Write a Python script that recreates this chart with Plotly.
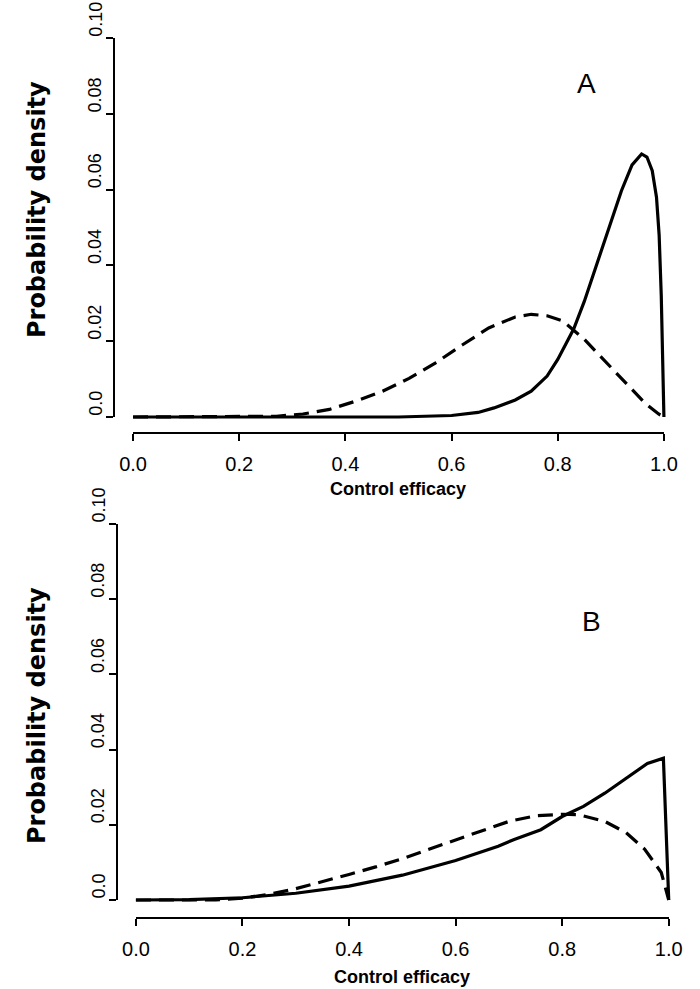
import plotly.graph_objects as go

# ---------------- data ----------------
# Panel A
a_solid_x = [0, 0.3, 0.5, 0.6, 0.65, 0.68, 0.72, 0.75, 0.78, 0.8, 0.83, 0.85, 0.88, 0.9,
             0.92, 0.94, 0.958, 0.968, 0.978, 0.986, 0.991, 0.995, 0.998, 1.0]
a_solid_y = [0, 0, 0, 0.0004, 0.0012, 0.0024, 0.0045, 0.0068, 0.0108, 0.0152, 0.0232,
             0.0305, 0.043, 0.0515, 0.0597, 0.0665, 0.0694, 0.0686, 0.065, 0.058, 0.048,
             0.032, 0.013, 0.0]
a_dash_x = [0, 0.22, 0.27, 0.32, 0.37, 0.42, 0.47, 0.52, 0.57, 0.62, 0.67, 0.72, 0.75,
            0.78, 0.81, 0.85, 0.89, 0.93, 0.965, 0.99, 1.0]
a_dash_y = [0, 0, 0.0002, 0.0008, 0.0020, 0.0042, 0.0068, 0.0102, 0.0143, 0.0190, 0.0235,
            0.0264, 0.0271, 0.0267, 0.0253, 0.0205, 0.0145, 0.0087, 0.0036, 0.0008, 0.0]

# Panel B
b_solid_x = [0, 0.1, 0.2, 0.3, 0.4, 0.5, 0.6, 0.68, 0.71, 0.76, 0.8, 0.84, 0.88, 0.92,
             0.96, 0.99, 1.0]
b_solid_y = [0, 0.0001, 0.0006, 0.0018, 0.0037, 0.0066, 0.0105, 0.0143, 0.0161, 0.0187,
             0.0222, 0.0249, 0.0284, 0.0324, 0.0363, 0.0377, 0.0]
b_dash_x = [0, 0.15, 0.2, 0.25, 0.3, 0.35, 0.4, 0.45, 0.5, 0.55, 0.6, 0.65, 0.7, 0.75,
            0.8, 0.83, 0.88, 0.92, 0.955, 0.986, 1.0]
b_dash_y = [0, 0, 0.0005, 0.0015, 0.003, 0.0048, 0.0068, 0.0088, 0.0110, 0.0135, 0.0160,
            0.0186, 0.0209, 0.0224, 0.0228, 0.0227, 0.0209, 0.0179, 0.0135, 0.0073, 0.0]

x_ticks = [0, 0.2, 0.4, 0.6, 0.8, 1.0]
x_tick_text = ["0.0", "0.2", "0.4", "0.6", "0.8", "1.0"]
y_ticks = [0, 0.02, 0.04, 0.06, 0.08, 0.10]
y_tick_text = ["0.0", "0.02", "0.04", "0.06", "0.08", "0.10"]
x_title = "Control efficacy"
y_title = "Probability density"
panel_labels = ["A", "B"]
panel_label_pos = [(0.855, 0.088), (0.855, 0.074)]

# ---------------- layout helpers ----------------
W, H = 700, 989
FONT = "Liberation Sans, Arial, Helvetica, sans-serif"
TITLE_FONT = "DejaVu Sans, Liberation Sans, Arial, sans-serif"


def fx(p):
    return p / W


def fy(p):
    return 1 - p / H


# pixel geometry of each panel
panels = [
    dict(x0=124, x1=677, y0=417, y1=38, xline=433, yline=104, xtitle=489, ytitle=210),
    dict(x0=127, x1=682, y0=900, y1=524, xline=918, yline=107, xtitle=977, ytitle=716),
]
XPAD, YPAD = 0.02, 0.005
TICKLEN = 7

fig = go.Figure()
layout = dict(
    width=W, height=H, margin=dict(l=0, r=0, t=0, b=0),
    paper_bgcolor="white", plot_bgcolor="rgba(0,0,0,0)",
    showlegend=False, font=dict(family=FONT, color="black"),
    annotations=[],
)

data = [(a_solid_x, a_solid_y, a_dash_x, a_dash_y), (b_solid_x, b_solid_y, b_dash_x, b_dash_y)]

for i, (pnl, (sx, sy, dx, dy)) in enumerate(zip(panels, data)):
    n_data = 2 * i + 1
    n_disp = 2 * i + 2
    xd = "x" if n_data == 1 else f"x{n_data}"
    yd = "y" if n_data == 1 else f"y{n_data}"
    xs, ys = f"x{n_disp}", f"y{n_disp}"
    kd_x = "xaxis" if n_data == 1 else f"xaxis{n_data}"
    kd_y = "yaxis" if n_data == 1 else f"yaxis{n_data}"

    sx_px = pnl["x1"] - pnl["x0"]
    sy_px = (pnl["y0"] - pnl["y1"]) / 0.1

    # data axes (invisible, slightly padded so the thick lines are not clipped)
    layout[kd_x] = dict(
        domain=[fx(pnl["x0"] - XPAD * sx_px), fx(pnl["x1"] + XPAD * sx_px)],
        range=[-XPAD, 1 + XPAD], visible=False, anchor=yd,
    )
    layout[kd_y] = dict(
        domain=[fy(pnl["y0"] + YPAD * sy_px), fy(pnl["y1"] - YPAD * sy_px)],
        range=[-YPAD, 0.1 + YPAD], visible=False, anchor=xd,
    )
    # display axes (R style, detached from the data region)
    layout[f"xaxis{n_disp}"] = dict(
        domain=[fx(pnl["x0"]), fx(pnl["x1"])], range=[0, 1],
        anchor="free", position=fy(pnl["xline"]),
        showline=True, linecolor="black", linewidth=1.5,
        ticks="outside", ticklen=TICKLEN, tickwidth=1.5, tickcolor="black",
        tickvals=x_ticks, ticktext=x_tick_text, ticklabelstandoff=6,
        tickfont=dict(size=20, family=FONT, color="black"),
        showgrid=False, zeroline=False, fixedrange=True,
    )
    layout[f"yaxis{n_disp}"] = dict(
        domain=[fy(pnl["y0"]), fy(pnl["y1"])], range=[0, 0.1],
        anchor="free", position=fx(pnl["yline"]),
        showline=True, linecolor="black", linewidth=1.5,
        ticks="outside", ticklen=TICKLEN, tickwidth=1.5, tickcolor="black",
        tickvals=y_ticks, showticklabels=False,
        showgrid=False, zeroline=False, fixedrange=True,
    )

    fig.add_trace(go.Scatter(x=[None], y=[None], xaxis=xs, yaxis=ys,
                             mode="lines", hoverinfo="skip"))
    fig.add_trace(go.Scatter(x=sx, y=sy, xaxis=xd, yaxis=yd, mode="lines",
                             line=dict(color="black", width=3.2), hoverinfo="skip"))
    fig.add_trace(go.Scatter(x=dx, y=dy, xaxis=xd, yaxis=yd, mode="lines",
                             line=dict(color="black", width=3.2, dash="15px,8px"),
                             hoverinfo="skip"))

    # y tick labels: rotated, sitting just above each tick (as in the reference)
    for v, t in zip(y_ticks, y_tick_text):
        layout["annotations"].append(dict(
            text=t, xref="paper", yref=ys, x=fx(pnl["yline"] - TICKLEN - 1), y=v,
            textangle=-90, xanchor="right", yanchor="bottom", showarrow=False,
            borderpad=0, font=dict(size=18, family=FONT, color="black")))

    # titles and panel letters
    layout["annotations"] += [
        dict(text=f"<b>{x_title}</b>", xref="paper", yref="paper",
             x=fx((pnl["x0"] + pnl["x1"]) / 2), y=fy(pnl["xtitle"]),
             xanchor="center", yanchor="middle", showarrow=False,
             font=dict(size=18, family=FONT)),
        dict(text=f"<b>{y_title}</b>", xref="paper", yref="paper",
             x=fx(24), y=fy(pnl["ytitle"]), textangle=-90,
             xanchor="center", yanchor="middle", showarrow=False,
             font=dict(size=24, family=TITLE_FONT)),
        dict(text=panel_labels[i], xref=xd, yref=yd,
             x=panel_label_pos[i][0], y=panel_label_pos[i][1],
             xanchor="center", yanchor="middle", showarrow=False,
             font=dict(size=28, family=FONT)),
    ]

fig.update_layout(**layout)
fig.write_html("out.html")
